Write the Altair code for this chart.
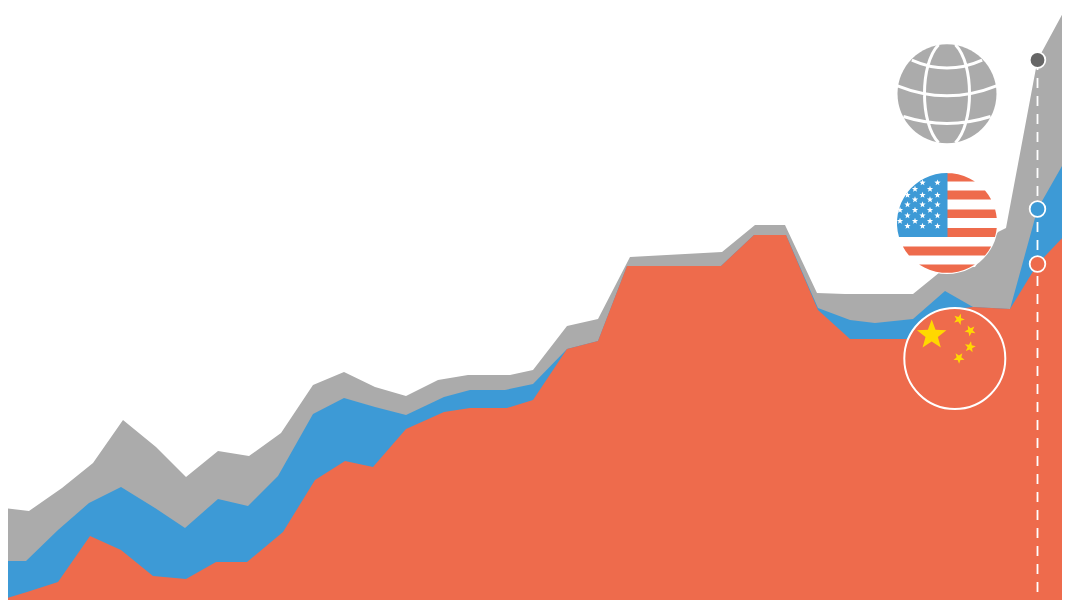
import math
import altair as alt
import pandas as pd

# Knot positions (px-like units: x from the left, value = height above the bottom)
grey_x = [0, 29, 62, 93, 123, 156, 186, 218, 249, 281, 313, 344, 375, 406, 438, 468, 510, 533, 567, 598, 630, 722, 755, 785, 817, 845, 913, 945, 975, 998, 1006, 1037.5, 1070]
grey_v = [92.5, 89, 112, 137, 180, 153, 123, 149, 144, 167, 215, 228, 213, 204, 220, 225, 225, 230, 274, 281, 343, 348, 375, 375, 307, 306, 306, 332, 333, 368, 372, 540, 600]
blue_x = [0, 26, 58, 89, 121, 155, 185, 218, 248, 278, 313, 344, 375, 406, 444, 470, 505, 533, 567, 598, 627, 721, 754, 786, 818, 850, 875, 913, 945, 973, 1010, 1037.5, 1070]
blue_v = [39, 39, 70, 97, 113, 92, 72, 101, 94, 124, 186, 202, 193, 185, 203, 210, 210, 216, 251, 259, 334, 334, 365, 365, 292, 280, 277, 281, 309, 293, 291, 391, 448]
orange_x = [0, 27, 58, 90, 121, 153, 186, 216, 247, 283, 315, 345, 373, 406, 444, 470, 507, 533, 567, 598, 627, 721, 754, 786, 818, 850, 912, 945, 973, 1010, 1037.5, 1070]
orange_v = [0, 8, 18, 64, 50, 24, 21, 38, 38, 68, 120, 139, 133, 171, 188, 192, 192, 200, 251, 259, 334, 334, 365, 365, 290, 261, 261, 290, 293, 291, 336, 370]

GREY, BLUE, ORANGE = "#ababab", "#3d9ad6", "#ee6b4c"
YELLOW, WHITE, DARK = "#ffd800", "#ffffff", "#666666"

# Marker and icon placements, same units
guide_x = 1037.5
marker_v = [540, 391, 336]
marker_colors = [DARK, BLUE, ORANGE]
globe_c = (947, 506.3)
usa_c = (947, 377)
china_c = (954.8, 241.5)
china_big = (931.7, 265)
china_small = [(959, 280.7, 20), (970.3, 269.3, 45), (970, 253, 10), (959, 242, 35)]
us_star_rows = [
    (182.7, [922.5, 937.5]),
    (189, [915, 930]),
    (195, [907.5, 922.5, 937.5]),
    (199.5, [915, 930]),
    (204.5, [907.5, 922.5, 937.5]),
    (210, [900, 915, 930]),
    (215.5, [907.5, 922.5, 937.5]),
    (221, [900, 915, 930]),
    (226, [907.5, 922.5, 937.5]),
]

W, H = 1054, 592
xs = alt.Scale(domain=[8, 1062], nice=False, zero=False)
ys = alt.Scale(domain=[0, 592], nice=False, zero=False)
X = alt.X("x:Q", scale=xs, axis=None)
Y = alt.Y("v:Q", scale=ys, axis=None)


def area(xv, vv, color):
    d = pd.DataFrame({"x": xv, "v": vv})
    return alt.Chart(d).mark_area(color=color, opacity=1, clip=True).encode(x=X, y=Y)


# Icon outlines, in a unit square
CIRCLE = "M-1,0A1,1 0 1 1 1,0A1,1 0 1 1 -1,0Z"
GLOBE_LINES = (
    "M-0.17,-0.99C-0.55,-0.6 -0.55,0.6 -0.17,0.99"
    "M0.17,-0.99C0.55,-0.6 0.55,0.6 0.17,0.99"
    "M-0.71,-0.68Q0,-0.36 0.71,-0.68"
    "M-1,-0.16Q0,0.24 1,-0.16"
    "M-0.88,0.46Q0,0.74 0.88,0.46"
)


def star_path():
    pts = []
    for k in range(10):
        r = 1 if k % 2 == 0 else 0.42
        a = -math.pi / 2 + k * math.pi / 5
        pts.append(f"{r * math.cos(a):.3f},{r * math.sin(a):.3f}")
    return "M" + "L".join(pts) + "Z"


STAR = star_path()


def half(y):
    return math.sqrt(max(0.0, 1 - y * y))


def band(y0, y1, left=None):
    h0, h1 = half(y0), half(y1)
    if left is None:
        return (f"M{-h0:.3f},{y0}L{h0:.3f},{y0}A1,1 0 0 1 {h1:.3f},{y1}"
                f"L{-h1:.3f},{y1}A1,1 0 0 1 {-h0:.3f},{y0}Z")
    return f"M{left},{y0}L{h0:.3f},{y0}A1,1 0 0 1 {h1:.3f},{y1}L{left},{y1}Z"


STRIPES = (band(-0.995, -0.83, 0) + band(-0.65, -0.47, 0) + band(-0.27, -0.10, 0)
           + band(0.10, 0.28, 0) + band(0.47, 0.65) + band(0.83, 0.995))
h = half(0.28)
CANTON = f"M0.01,-1A1,1 0 0 0 {-h:.3f},0.28L0.01,0.28Z"


def glyph(x, v, shape, radius, fill=None, stroke=None, sw=0, angle=0):
    d = pd.DataFrame({"x": [x], "v": [v]})
    kw = dict(shape=shape, size=(2 * radius) ** 2, angle=angle, strokeWidth=sw, opacity=1)
    if fill:
        kw.update(filled=True, fill=fill, fillOpacity=1)
    else:
        kw.update(filled=False, fill="transparent")
    kw["stroke"] = stroke if stroke else "transparent"
    return alt.Chart(d).mark_point(**kw).encode(x=X, y=Y)


layers = [
    area(grey_x, grey_v, GREY),
    area(blue_x, blue_v, BLUE),
    area(orange_x, orange_v, ORANGE),
]

# Dashed guide
guide = pd.DataFrame({"x": [guide_x], "v": [marker_v[0]], "v0": [0]})
layers.append(
    alt.Chart(guide).mark_rule(color=WHITE, strokeWidth=1.8, strokeDash=[10, 8]).encode(x=X, y=Y, y2="v0:Q")
)
for v, c in zip(marker_v, marker_colors):
    layers.append(glyph(guide_x, v, CIRCLE, 7.8, fill=c, stroke=WHITE, sw=1.8))

# Globe
layers.append(glyph(*globe_c, CIRCLE, 49.5, fill=GREY))
layers.append(glyph(*globe_c, GLOBE_LINES, 49.5, stroke=WHITE, sw=3))

# US flag
layers.append(glyph(*usa_c, CIRCLE, 51, fill=WHITE))
layers.append(glyph(*usa_c, STRIPES, 50, fill=ORANGE))
layers.append(glyph(*usa_c, CANTON, 50, fill=BLUE))
for row_y, row_xs in us_star_rows:
    for sx in row_xs:
        layers.append(glyph(sx, 600 - row_y, STAR, 3.3, fill=WHITE))

# China flag
layers.append(glyph(*china_c, CIRCLE, 50.5, fill=ORANGE, stroke=WHITE, sw=2))
layers.append(glyph(*china_big, STAR, 15.5, fill=YELLOW))
for sx, sv, ang in china_small:
    layers.append(glyph(sx, sv, STAR, 5.8, fill=YELLOW, angle=ang))

chart = (
    alt.layer(*layers)
    .properties(width=W, height=H, padding=0, background=WHITE,
                autosize=alt.AutoSizeParams(type="none"))
    .configure_view(stroke=None)
)
chart.save("out.html", embed_options={"renderer": "svg", "actions": False})
